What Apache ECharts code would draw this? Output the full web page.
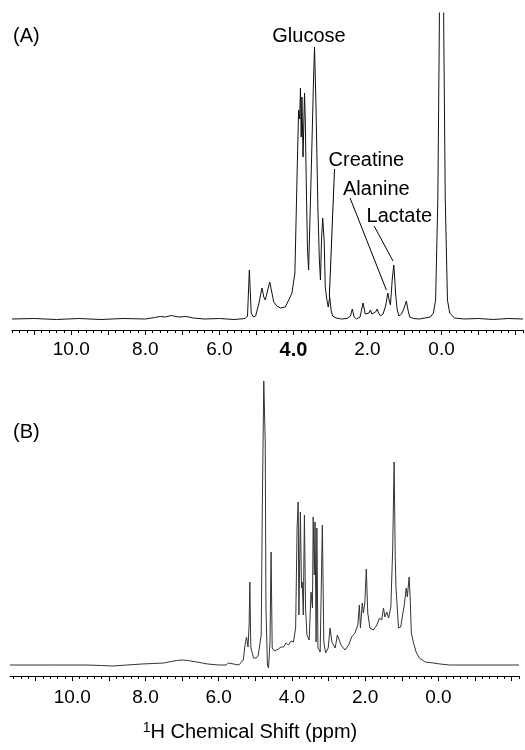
<!DOCTYPE html>
<html>
<head>
<meta charset="utf-8">
<title>1H NMR spectra</title>
<script src="https://cdn.jsdelivr.net/npm/echarts@6.0.0/dist/echarts.min.js"></script>
<style>
  html, body { margin: 0; padding: 0; background: #fff; }
  #chart { width: 525px; height: 750px; }
</style>
</head>
<body>
<div id="chart"></div>
<script>
// panel (A): chemical shift (ppm) and intensity
var shiftA = [11.6, 11.0, 10.4, 9.8, 9.2, 8.6, 8.0, 7.75, 7.6, 7.45, 7.3, 7.1, 6.9, 6.7, 6.4, 6.0, 5.6, 5.3,
  5.24, 5.19, 5.14, 5.08, 5.02, 4.93, 4.85, 4.80, 4.76, 4.70, 4.64, 4.58, 4.53, 4.45, 4.35, 4.22, 4.10, 4.04,
  3.96, 3.90, 3.86, 3.83, 3.81, 3.79, 3.77, 3.74, 3.70, 3.68, 3.65, 3.62, 3.59, 3.51, 3.46, 3.43, 3.39, 3.34,
  3.30, 3.27, 3.24, 3.21, 3.17, 3.14, 3.10, 3.06, 3.02, 2.98, 2.94, 2.85, 2.70, 2.55, 2.46, 2.41, 2.36, 2.30,
  2.20, 2.12, 2.06, 2.01, 1.96, 1.92, 1.88, 1.83, 1.78, 1.74, 1.70, 1.65, 1.58, 1.51, 1.45, 1.41, 1.38, 1.33,
  1.29, 1.26, 1.24, 1.20, 1.15, 1.08, 1.02, 0.95, 0.90, 0.86, 0.75, 0.60, 0.45, 0.30, 0.22, 0.16, 0.10, 0.06,
  0.0, -0.06, -0.10, -0.16, -0.22, -0.35, -0.6, -1.0, -1.4, -1.8, -2.2];
var intensityA = [0, 0.5, -0.5, 0.5, -0.5, 0.5, 0, 1.5, 2.5, 2, 3.5, 2, 2.5, 1, 0, 0.5, -0.5, 0.5,
  3, 49, 6, 2, 3, 16, 31, 22, 19, 28, 37, 26, 17, 13, 11, 12, 21, 26,
  46, 146, 209, 200, 231, 182, 222, 162, 226, 199, 129, 70, 49, 160, 235, 272, 212, 112,
  60, 39, 80, 101, 79, 32, 20, 12, 22, 8, 3, 1, 0, 0.5, 3, 10, 2, 0,
  2, 16, 5, 3, 6, 9, 5, 4, 7, 10, 6, 3, 5, 13, 26, 18, 14, 40,
  54, 38, 25, 10, 3, 5, 10, 18, 8, 2, 0.5, 0, 1, 2, 6, 19, 120, 290,
  700, 290, 120, 19, 6, 1, 0, 0.5, -0.5, 0.5, 0];

// panel (B)
var shiftB = [11.7, 10.5, 9.6, 9.2, 8.9, 8.5, 8.1, 7.8, 7.5, 7.3, 7.15, 7.0, 6.85, 6.6, 6.3, 6.0, 5.80, 5.74, 5.70,
  5.45, 5.33, 5.28, 5.24, 5.20, 5.17, 5.15, 5.13, 5.12, 5.05, 4.97, 4.92, 4.84, 4.81, 4.77, 4.73, 4.71, 4.67,
  4.64, 4.60, 4.57, 4.54, 4.48, 4.37, 4.30, 4.23, 4.16, 4.10, 4.02, 3.96, 3.90, 3.86, 3.83, 3.81, 3.77, 3.74,
  3.72, 3.69, 3.66, 3.63, 3.59, 3.53, 3.48, 3.44, 3.42, 3.39, 3.37, 3.34, 3.32, 3.29, 3.23, 3.17, 3.13, 3.08,
  3.01, 2.96, 2.91, 2.82, 2.76, 2.71, 2.66, 2.55, 2.45, 2.37, 2.28, 2.20, 2.16, 2.13, 2.08, 2.05, 2.01, 1.97,
  1.93, 1.87, 1.78, 1.68, 1.61, 1.55, 1.50, 1.46, 1.41, 1.36, 1.30, 1.25, 1.21, 1.18, 1.16, 1.09, 1.03, 0.97,
  0.94, 0.88, 0.85, 0.80, 0.77, 0.74, 0.68, 0.61, 0.52, 0.36, 0.14, -0.05, -0.3, -1.0, -2.2];
var intensityB = [0, 0, 0, -0.5, -1, 0, 1, 1.5, 2, 3.5, 4.5, 5, 4.5, 3, 1, 0, 0, 2, 0,
  0, 5, 20, 28, 18, 40, 83, 30, 17, 7, 7, 10, 30, 157, 284, 223, 57, 0,
  -3, 23, 113, 17, 14, 16, 18, 18, 22, 20, 24, 23, 37, 137, 163, 50, 153, 77,
  83, 50, 150, 57, 30, 25, 73, 57, 148, 90, 143, 23, 137, 17, 13, 140, 23, 12,
  17, 37, 23, 17, 30, 32, 20, 15, 20, 28, 32, 40, 60, 37, 62, 52, 62, 96,
  52, 37, 35, 40, 47, 45, 57, 48, 53, 47, 58, 115, 203, 108, 78, 37, 38, 52,
  58, 77, 68, 88, 65, 32, 22, 13, 7, 3, 2, 1, 0, 0, 0];

// axis ticks (ppm)
var majorTicks = [-2, -1, 0, 1, 2, 3, 4, 5, 6, 7, 8, 9, 10, 11];
var tickLabels = [0, 2, 4, 6, 8, 10];
var minorTicks = [];
for (var i = -11; i <= 58; i++) minorTicks.push(Math.round(i * 2) / 10);

// assigned peaks in panel (A)
var peakNames = ['Glucose', 'Creatine', 'Alanine', 'Lactate'];

// where the peak names and their leader lines sit, in (ppm, intensity) of panel (A)
var nameAt = { Glucose: [3.58, 283], Creatine: [2.03, 159], Alanine: [1.76, 130], Lactate: [1.14, 103] };
var leaderAt = {
  Creatine: [[2.89, 150], [3.03, 22]],
  Alanine: [[2.47, 121], [1.49, 29]],
  Lactate: [[1.82, 93], [1.31, 58]]
};

var FONT = "'Liberation Sans', Arial, sans-serif";

function zip (xs, ys) {
  return xs.map(function (x, k) { return [x, ys[k]]; });
}

function ppmAxes (gridIndex, max, margin, boldFour, withName) {
  var main = {
    gridIndex: gridIndex,
    type: 'value',
    position: 'bottom',
    inverse: true,
    min: -2.2,
    max: max,
    axisLine: { show: true, onZero: false, lineStyle: { color: '#000', width: 1 } },
    axisTick: { show: true, customValues: majorTicks, length: 5, lineStyle: { color: '#000', width: 1 } },
    axisLabel: {
      customValues: tickLabels,
      margin: margin,
      color: '#000',
      fontSize: 19,
      fontFamily: FONT,
      formatter: function (v) {
        var s = v.toFixed(1);
        return (boldFour && v === 4) ? '{b|' + s + '}' : s;
      },
      rich: { b: { fontWeight: 'bold', fontSize: 20, fontFamily: FONT, color: '#000' } }
    },
    splitLine: { show: false }
  };
  if (withName) {
    // ¹H Chemical Shift (ppm), with a real superscript 1
    main.name = '{s|1}{t|H Chemical Shift (ppm)}';
    main.nameLocation = 'middle';
    main.nameGap = 45;
    main.nameTextStyle = {
      fontSize: 20,
      color: '#000',
      fontFamily: FONT,
      padding: [0, 29, 0, 0],
      rich: {
        s: { fontSize: 14, fontFamily: FONT, color: '#000', verticalAlign: 'top', lineHeight: 22, padding: [0, 0, 8, 0] },
        t: { fontSize: 20, fontFamily: FONT, color: '#000', lineHeight: 22 }
      }
    };
  }
  var minor = {
    gridIndex: gridIndex,
    type: 'value',
    position: 'bottom',
    inverse: true,
    min: -2.2,
    max: max,
    axisLine: { show: false, onZero: false },
    axisTick: { show: true, customValues: minorTicks, length: 3, lineStyle: { color: '#000', width: 1 } },
    axisLabel: { show: false },
    splitLine: { show: false }
  };
  return [main, minor];
}

var chart = echarts.init(document.getElementById('chart'));

chart.setOption({
  animation: false,
  backgroundColor: '#fff',
  grid: [
    { left: 12, right: 2, top: 13, bottom: 420 },
    { left: 10, right: 6, top: 376, bottom: 74 }
  ],
  xAxis: ppmAxes(0, 11.6, 10, true, false).concat(ppmAxes(1, 11.7, 12, false, true)),
  yAxis: [
    { gridIndex: 0, type: 'value', min: -11, max: 306, show: false },
    { gridIndex: 1, type: 'value', min: -11, max: 289, show: false }
  ],
  graphic: [
    { type: 'text', left: 13, top: 26, style: { text: '(A)', fontSize: 20, fill: '#000', fontFamily: FONT } },
    { type: 'text', left: 13, top: 422, style: { text: '(B)', fontSize: 20, fill: '#000', fontFamily: FONT } }
  ],
  series: [
    {
      type: 'line',
      xAxisIndex: 0,
      yAxisIndex: 0,
      data: zip(shiftA, intensityA),
      showSymbol: false,
      symbol: 'none',
      clip: true,
      lineStyle: { color: '#111', width: 1 },
      silent: true,
      markPoint: {
        symbol: 'rect',
        symbolSize: 1,
        itemStyle: { color: 'transparent' },
        label: { show: true, position: 'inside', formatter: '{b}', color: '#000', fontSize: 20, fontFamily: FONT },
        data: peakNames.map(function (n) { return { name: n, coord: nameAt[n] }; })
      },
      markLine: {
        silent: true,
        symbol: ['none', 'none'],
        label: { show: false },
        lineStyle: { color: '#000', width: 1, type: 'solid' },
        data: peakNames.filter(function (n) { return leaderAt[n]; }).map(function (n) {
          return [{ coord: leaderAt[n][0] }, { coord: leaderAt[n][1] }];
        })
      }
    },
    {
      type: 'line',
      xAxisIndex: 2,
      yAxisIndex: 1,
      data: zip(shiftB, intensityB),
      showSymbol: false,
      symbol: 'none',
      clip: true,
      lineStyle: { color: '#333', width: 1 },
      silent: true
    }
  ]
});
</script>
</body>
</html>
